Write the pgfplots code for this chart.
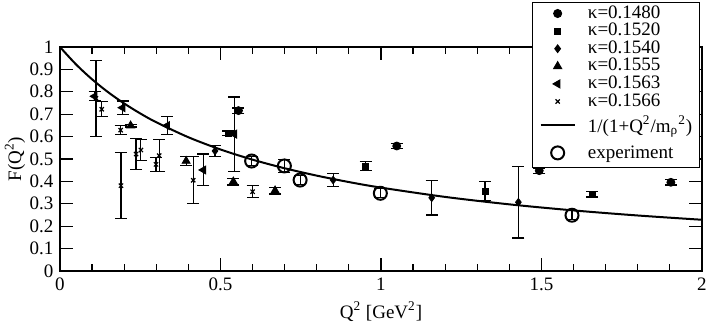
\documentclass[border=0pt]{standalone}
\usepackage{pgfplots}
\pgfplotsset{compat=1.18}
\usepackage{fontspec}
\setmainfont{Liberation Serif}
\pgfplotsset{
  errstyle/.style={only marks, black,
    error bars/y dir=both, error bars/y explicit,
    error bars/error bar style={line width=0.6pt, solid},
    error bars/error mark options={rotate=90, mark size=3pt, line width=0.6pt, solid}},
}
\begin{document}
\fontsize{9.5}{11}\selectfont
\begin{tikzpicture}
\begin{axis}[
  scale only axis, width=321pt, height=112pt,
  xmin=0, xmax=2, ymin=0, ymax=1,
  axis line style={line width=0.6pt},
  xtick={0,0.5,1,1.5,2}, xticklabels={0,0.5,1,1.5,2},
  minor x tick num=4,
  ytick={0,0.1,0.2,0.3,0.4,0.5,0.6,0.7,0.8,0.9,1},
  yticklabels={0,0.1,0.2,0.3,0.4,0.5,0.6,0.7,0.8,0.9,1},
  tick align=inside, major tick length=6.5pt, minor tick length=3.25pt,
  tick style={line width=0.6pt, black},
  xlabel={Q\textsuperscript{2} [GeV\textsuperscript{2}]},
  ylabel={F(Q\textsuperscript{2})},
  xlabel style={at={(axis description cs:0.5,0)}, anchor=base, yshift=-23.5pt},
  ylabel style={at={(axis description cs:-0.0701,0.5)}, anchor=center},
  legend cell align=left,
  legend style={at={(axis description cs:1,1)}, anchor=north east,
    xshift=-1pt, yshift=22.5pt, draw=black, line width=0.5pt, fill=white,
    inner xsep=3.5pt, inner ysep=1.1pt, column sep=6pt,
    nodes={scale=1, inner sep=0.1pt, text height=6.6pt, text depth=2pt},
    font=\fontsize{9.5}{11}\selectfont},
]
% kappa = 0.1480
\addplot[errstyle, mark=*, mark size=2pt] table[x=x, y=y, y error=e] {
x y e
0.556 0.716 0.012
1.049 0.558 0.012
1.493 0.448 0.012
1.903 0.396 0.012
};
\addlegendentry{κ=0.1480}
% kappa = 0.1520
\addplot[errstyle, mark=square*, mark size=1.5pt] table[x=x, y=y, y error=e] {
x y e
0.524 0.615 0.010
0.952 0.469 0.021
1.324 0.357 0.041
1.658 0.342 0.012
};
\addlegendentry{κ=0.1520}
% kappa = 0.1540
\addplot[errstyle, mark=diamond*, mark size=1.9pt] table[x=x, y=y, y error=e] {
x y e
0.483 0.536 0.024
0.851 0.406 0.030
1.158 0.327 0.077
1.428 0.307 0.160
};
\addlegendentry{κ=0.1540}
% kappa = 0.1555
\addplot[errstyle, mark=triangle*, mark size=2.3pt] table[x=x, y=y, y error=e] {
x y e
0.220 0.649 0.006
0.393 0.491 0.021
0.540 0.399 0.015
0.670 0.359 0.015
};
\addlegendentry{κ=0.1555}
% kappa = 0.1563
\addplot[errstyle, mark=triangle*, mark size=2.3pt, mark options={rotate=90}] table[x=x, y=y, y error=e] {
x y e
0.108 0.780 0.020
0.195 0.729 0.030
0.334 0.649 0.040
0.447 0.451 0.071
0.543 0.611 0.166
};
\addlegendentry{κ=0.1563}
% kappa = 0.1566
\addplot[errstyle, mark=x, mark size=1.5pt, mark options={line width=0.6pt}] table[x=x, y=y, y error=e] {
x y e
0.112 0.771 0.170
0.130 0.722 0.034
0.189 0.629 0.021
0.190 0.381 0.148
0.237 0.522 0.070
0.252 0.540 0.048
0.299 0.476 0.032
0.309 0.515 0.071
0.415 0.405 0.105
0.600 0.354 0.027
};
\addlegendentry{κ=0.1566}
% 1/(1+Q^2/m_rho^2)
\addplot[black, line width=1pt, smooth, no marks] coordinates {
(0,1) (0.05,0.9222) (0.1,0.8557) (0.15,0.7981) (0.2,0.7478) (0.25,0.7034)
(0.3,0.6640) (0.4,0.5971) (0.5,0.5425) (0.6,0.4970) (0.7,0.4586)
(0.8,0.4257) (0.9,0.3971) (1.0,0.3722) (1.2,0.3307) (1.4,0.2975)
(1.6,0.2704) (1.8,0.2478) (2.0,0.2287)
};
\addlegendentry[text height=11pt, text depth=4pt]{1/(1+Q\textsuperscript{2}/m\textsubscript{ρ}\textsuperscript{2})}
% experiment
\addplot[errstyle, mark=o, mark size=3.25pt, mark options={line width=1pt}] table[x=x, y=y, y error=e] {
x y e
0.597 0.491 0.020
0.699 0.469 0.030
0.748 0.406 0.020
0.998 0.347 0.020
1.595 0.249 0.020
};
\addlegendentry[text height=9pt, text depth=3pt]{experiment}
\end{axis}
\pgfresetboundingbox
\path[use as bounding box] ([shift={(-30pt,-25.5pt)}]current axis.south west) rectangle ([shift={(324pt,135.5pt)}]current axis.south west);
\end{tikzpicture}
\end{document}
